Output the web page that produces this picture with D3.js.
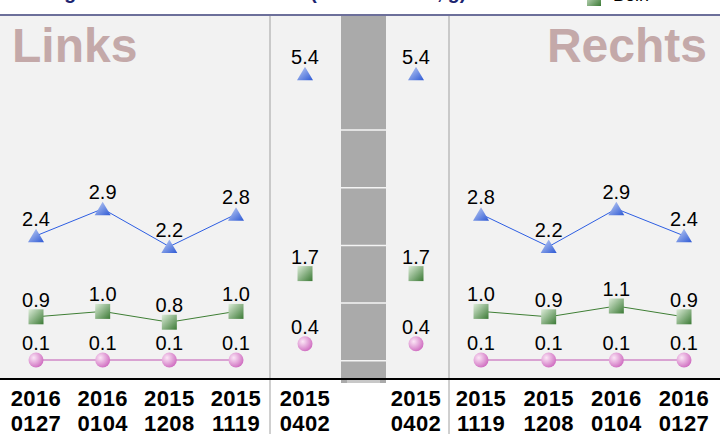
<!DOCTYPE html>
<html>
<head>
<meta charset="utf-8">
<script src="https://cdn.jsdelivr.net/npm/d3@7"></script>
<style>
  body { margin: 0; background: #fff; }
  text { font-family: "Liberation Sans", Arial, sans-serif; }
</style>
</head>
<body>
<div id="chart"></div>
<script>
// data
const leftDates = ["2016 0127", "2016 0104", "2015 1208", "2015 1119"];
const leftTri = [2.4, 2.9, 2.2, 2.8];
const leftSq = [0.9, 1.0, 0.8, 1.0];
const leftCirc = [0.1, 0.1, 0.1, 0.1];

const midDates = ["2015 0402", "2015 0402"];
const midTri = [5.4, 5.4];
const midSq = [1.7, 1.7];
const midCirc = [0.4, 0.4];

const rightDates = ["2015 1119", "2015 1208", "2016 0104", "2016 0127"];
const rightTri = [2.8, 2.2, 2.9, 2.4];
const rightSq = [1.0, 0.9, 1.1, 0.9];
const rightCirc = [0.1, 0.1, 0.1, 0.1];

const titleText = "Beingewicht Links und Rechts (Durchschnitt, g)";
const legendText = "Bein";

const width = 720, height = 434;
const plotTop = 16, axisY = 379;

const svg = d3.select("#chart").append("svg")
  .attr("width", width)
  .attr("height", height);

const defs = svg.append("defs");
let g1 = defs.append("linearGradient").attr("id", "triGrad")
  .attr("x1", "0").attr("y1", "0").attr("x2", "1").attr("y2", "1");
g1.append("stop").attr("offset", "0%").attr("stop-color", "#c6d4f6");
g1.append("stop").attr("offset", "100%").attr("stop-color", "#2c58d4");
let g2 = defs.append("linearGradient").attr("id", "sqGrad")
  .attr("x1", "0").attr("y1", "0").attr("x2", "1").attr("y2", "1");
g2.append("stop").attr("offset", "0%").attr("stop-color", "#dcecd8");
g2.append("stop").attr("offset", "100%").attr("stop-color", "#3b7a35");
let g3 = defs.append("radialGradient").attr("id", "circGrad")
  .attr("cx", "0.35").attr("cy", "0.35").attr("r", "0.7");
g3.append("stop").attr("offset", "0%").attr("stop-color", "#fbe6f6");
g3.append("stop").attr("offset", "100%").attr("stop-color", "#cf6cc0");

// title (mostly cut off at the top) and legend
svg.append("text")
  .attr("x", 22).attr("y", -1)
  .attr("font-size", "19.5px").attr("font-weight", "bold")
  .attr("fill", "#1c2470")
  .text(titleText);
svg.append("rect")
  .attr("x", 587).attr("y", -8).attr("width", 14).attr("height", 14)
  .attr("fill", "url(#sqGrad)");
svg.append("text")
  .attr("x", 613).attr("y", 1)
  .attr("font-size", "18px")
  .attr("fill", "#000")
  .text(legendText);

// plot background
svg.append("rect")
  .attr("x", 0).attr("y", plotTop).attr("width", width).attr("height", axisY - plotTop)
  .attr("fill", "#f2f2f2");
svg.append("line")
  .attr("x1", 0).attr("x2", width).attr("y1", 15).attr("y2", 15)
  .attr("stroke", "#3b3f78").attr("stroke-width", 1.5);

const y = d3.scaleLinear().domain([0, 6]).range([365.4, 41.4]);

const xLeft = d3.scalePoint().domain(d3.range(leftDates.length)).range([36, 236]);
const xMid = d3.scalePoint().domain(d3.range(midDates.length)).range([305, 416]);
const xRight = d3.scalePoint().domain(d3.range(rightDates.length)).range([481, 684]);

// big panel names
svg.append("text")
  .attr("x", 12).attr("y", 62)
  .attr("font-size", "48px").attr("font-weight", "bold")
  .attr("fill", "#c4a9a9")
  .text("Links");
svg.append("text")
  .attr("x", 707).attr("y", 62)
  .attr("text-anchor", "end")
  .attr("font-size", "48px").attr("font-weight", "bold")
  .attr("fill", "#c4a9a9")
  .text("Rechts");

// broken-axis bar in the middle
const barX = 341, barW = 45;
svg.append("rect")
  .attr("x", barX).attr("y", plotTop).attr("width", barW).attr("height", axisY + 4 - plotTop)
  .attr("fill", "#aaaaaa");
svg.append("rect")
  .attr("x", barX + 6).attr("y", axisY).attr("width", barW - 12).attr("height", 4)
  .attr("fill", "#c8c8c8");
svg.selectAll(".barline")
  .data(d3.range(5))
  .join("line")
  .attr("class", "barline")
  .attr("x1", barX).attr("x2", barX + barW)
  .attr("y1", d => 130 + d * 57.7).attr("y2", d => 130 + d * 57.7)
  .attr("stroke", "#f4f4f4").attr("stroke-width", 1.5);

// separators
[270, 449].forEach(sx => {
  svg.append("line")
    .attr("x1", sx).attr("x2", sx).attr("y1", plotTop).attr("y2", height)
    .attr("stroke", "#a0a0a0").attr("stroke-width", 1);
});

// axis line
svg.append("line")
  .attr("x1", 0).attr("x2", width).attr("y1", axisY).attr("y2", axisY)
  .attr("stroke", "#000").attr("stroke-width", 2);

const triPath = "M0,-7L8,6.5L-8,6.5Z";

function drawPanel(x, dates, tri, sq, circ, withLines) {
  const g = svg.append("g");
  const series = [
    { vals: circ, kind: "circ", color: "#d9a3d2", w: 2 },
    { vals: sq, kind: "sq", color: "#3f7f35", w: 1 },
    { vals: tri, kind: "tri", color: "#2d5ee3", w: 1 }
  ];
  series.forEach(s => {
    if (withLines) {
      g.append("path")
        .datum(s.vals)
        .attr("fill", "none")
        .attr("stroke", s.color)
        .attr("stroke-width", s.w)
        .attr("d", d3.line().x((d, i) => x(i)).y(d => y(d)));
    }
    const m = g.selectAll(null).data(s.vals).enter();
    if (s.kind === "tri") {
      m.append("path")
        .attr("d", triPath)
        .attr("transform", (d, i) => `translate(${x(i)},${y(d)})`)
        .attr("fill", "url(#triGrad)");
    } else if (s.kind === "sq") {
      m.append("rect")
        .attr("x", (d, i) => x(i) - 7.5).attr("y", d => y(d) - 7.5)
        .attr("width", 15).attr("height", 15)
        .attr("fill", "url(#sqGrad)");
    } else {
      m.append("circle")
        .attr("cx", (d, i) => x(i)).attr("cy", d => y(d))
        .attr("r", 7.5)
        .attr("fill", "url(#circGrad)");
    }
    g.selectAll(null).data(s.vals).enter().append("text")
      .attr("x", (d, i) => x(i))
      .attr("y", d => y(d) - 10)
      .attr("text-anchor", "middle")
      .attr("font-size", "20px")
      .attr("fill", "#000")
      .text(d => d.toFixed(1));
  });

  // date labels, two lines
  const lab = g.selectAll(null).data(dates).enter().append("text")
    .attr("text-anchor", "middle")
    .attr("font-size", "22px").attr("font-weight", "bold")
    .attr("letter-spacing", "0.4px")
    .attr("fill", "#000");
  lab.append("tspan")
    .attr("x", (d, i) => x(i)).attr("y", 406)
    .text(d => d.split(" ")[0]);
  lab.append("tspan")
    .attr("x", (d, i) => x(i)).attr("y", 431)
    .text(d => d.split(" ")[1]);
}

drawPanel(xLeft, leftDates, leftTri, leftSq, leftCirc, true);
drawPanel(xMid, midDates, midTri, midSq, midCirc, false);
drawPanel(xRight, rightDates, rightTri, rightSq, rightCirc, true);
</script>
</body>
</html>
